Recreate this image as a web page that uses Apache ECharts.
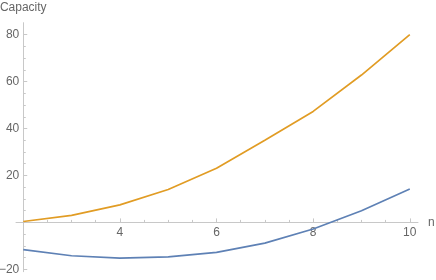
<!DOCTYPE html>
<html>
<head>
<meta charset="utf-8">
<script src="https://cdn.jsdelivr.net/npm/echarts@6/dist/echarts.min.js"></script>
<style>html,body{margin:0;padding:0;background:#fff}#c{width:436px;height:280px}</style>
</head>
<body>
<div id="c"></div>
<script>
const nValues = [2, 3, 4, 5, 6, 7, 8, 9, 10];
const orangeValues = [0.4, 3.0, 7.5, 14.0, 23.1, 35.0, 47.3, 62.8, 80.0];
const blueValues = [-11.6, -14.2, -15.2, -14.7, -12.8, -8.8, -2.8, 5.0, 14.2];
const xTickLabels = [4, 6, 8, 10];
const xMinorTicks = [2.5, 3, 3.5, 4.5, 5, 5.5, 6.5, 7, 7.5, 8.5, 9, 9.5];
const yTickLabels = [-20, 20, 40, 60, 80];
const yMinorTicks = [-15, -10, -5, 5, 10, 15, 25, 30, 35, 45, 50, 55, 65, 70, 75];

const X_MIN = 1.85, X_MAX = 10.17, Y_MIN = -21, Y_MAX = 85.1;
const GRID_LEFT = 16, GRID_RIGHT = 18, GRID_TOP = 22.7, GRID_BOTTOM = 8.3;
const pxPerX = (436 - GRID_LEFT - GRID_RIGHT) / (X_MAX - X_MIN);
const pxPerY = (280 - GRID_TOP - GRID_BOTTOM) / (Y_MAX - Y_MIN);
const yOffset = -(2 - X_MIN) * pxPerX;
const xOffset = -(0 - Y_MIN) * pxPerY;

const axisColor = '#c8c8c8';
const labelColor = '#666666';
const font = 'Liberation Sans, Arial, sans-serif';

const chart = echarts.init(document.getElementById('c'), null, {renderer: 'canvas'});
const pair = (vals) => nValues.map((n, i) => [n, vals[i]]);

chart.setOption({
  animation: false,
  grid: {left: GRID_LEFT, right: GRID_RIGHT, top: GRID_TOP, bottom: GRID_BOTTOM, containLabel: false, outerBoundsMode: 'none'},
  xAxis: [{
    type: 'value', min: X_MIN, max: X_MAX, position: 'bottom', offset: xOffset,
    name: 'n', nameLocation: 'end', nameGap: 10,
    nameTextStyle: {color: labelColor, fontSize: 12, fontFamily: font, verticalAlign: 'middle'},
    axisLine: {onZero: false, lineStyle: {color: axisColor, width: 1}},
    axisTick: {show: true, inside: true, length: 4, customValues: xTickLabels, lineStyle: {color: axisColor}},
    axisLabel: {customValues: xTickLabels, color: labelColor, fontSize: 12, fontFamily: font, margin: 4},
    splitLine: {show: false}
  }, {
    type: 'value', min: X_MIN, max: X_MAX, position: 'bottom', offset: xOffset,
    axisLine: {show: false, onZero: false},
    axisTick: {show: true, inside: true, length: 2.5, customValues: xMinorTicks, lineStyle: {color: axisColor}},
    axisLabel: {show: false},
    splitLine: {show: false}
  }],
  yAxis: [{
    type: 'value', min: Y_MIN, max: Y_MAX, offset: yOffset, position: 'left',
    name: 'Capacity', nameLocation: 'end', nameGap: 9,
    nameTextStyle: {color: labelColor, fontSize: 12, fontFamily: font, align: 'center'},
    axisLine: {show: true, onZero: false, lineStyle: {color: axisColor, width: 1}},
    axisTick: {show: true, inside: true, length: 4, customValues: yTickLabels, lineStyle: {color: axisColor}},
    axisLabel: {customValues: yTickLabels, color: labelColor, fontSize: 12, fontFamily: font, margin: 4,
      formatter: (v) => String(v).replace('-', '\u2212')},
    splitLine: {show: false}
  }, {
    type: 'value', min: Y_MIN, max: Y_MAX, offset: yOffset, position: 'left',
    axisLine: {show: false, onZero: false},
    axisTick: {show: true, inside: true, length: 2.5, customValues: yMinorTicks, lineStyle: {color: axisColor}},
    axisLabel: {show: false},
    splitLine: {show: false}
  }],
  series: [{
    type: 'line', data: pair(orangeValues), showSymbol: false, symbol: 'none',
    lineStyle: {color: '#E19C24', width: 1.7}, z: 3
  }, {
    type: 'line', data: pair(blueValues), showSymbol: false, symbol: 'none',
    lineStyle: {color: '#5E81B5', width: 1.7}, z: 3
  }]
});
</script>
</body>
</html>
